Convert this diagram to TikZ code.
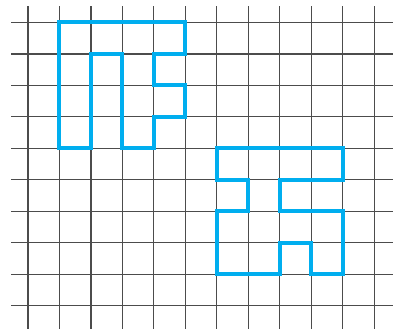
\documentclass[tikz,border=0pt]{standalone}
\usepackage{tikz}
\usetikzlibrary{positioning,calc}
\definecolor{figcyan}{RGB}{0,174,239}

\begin{document}
\begin{tikzpicture}[x=1cm, y=1cm]
\tikzstyle{gridline} = [line width=1.1pt, draw=black!70]
\tikzstyle{figure} = [line width=3.6pt, draw=figcyan, line join=miter]

\useasboundingbox (-0.89,0.714) rectangle (11.6,-9.73);

% grid
\foreach \i in {0,...,11}
  \draw [gridline] (\i,0.52) -- (\i,-9.73);
\foreach \j in {0,...,9}
  \draw [gridline] (-0.54,-\j) -- (11.6,-\j);

% upper figure
\draw [figure] (1,0) -- (5,0) -- (5,-1) -- (4,-1) -- (4,-2) -- (5,-2) -- (5,-3)
  -- (4,-3) -- (4,-4) -- (3,-4) -- (3,-1) -- (2,-1) -- (2,-4) -- (1,-4) -- cycle;

% lower figure
\draw [figure] (6,-4) -- (10,-4) -- (10,-5) -- (8,-5) -- (8,-6) -- (10,-6) -- (10,-8)
  -- (9,-8) -- (9,-7) -- (8,-7) -- (8,-8) -- (6,-8) -- (6,-6) -- (7,-6) -- (7,-5)
  -- (6,-5) -- cycle;
\end{tikzpicture}
\end{document}
